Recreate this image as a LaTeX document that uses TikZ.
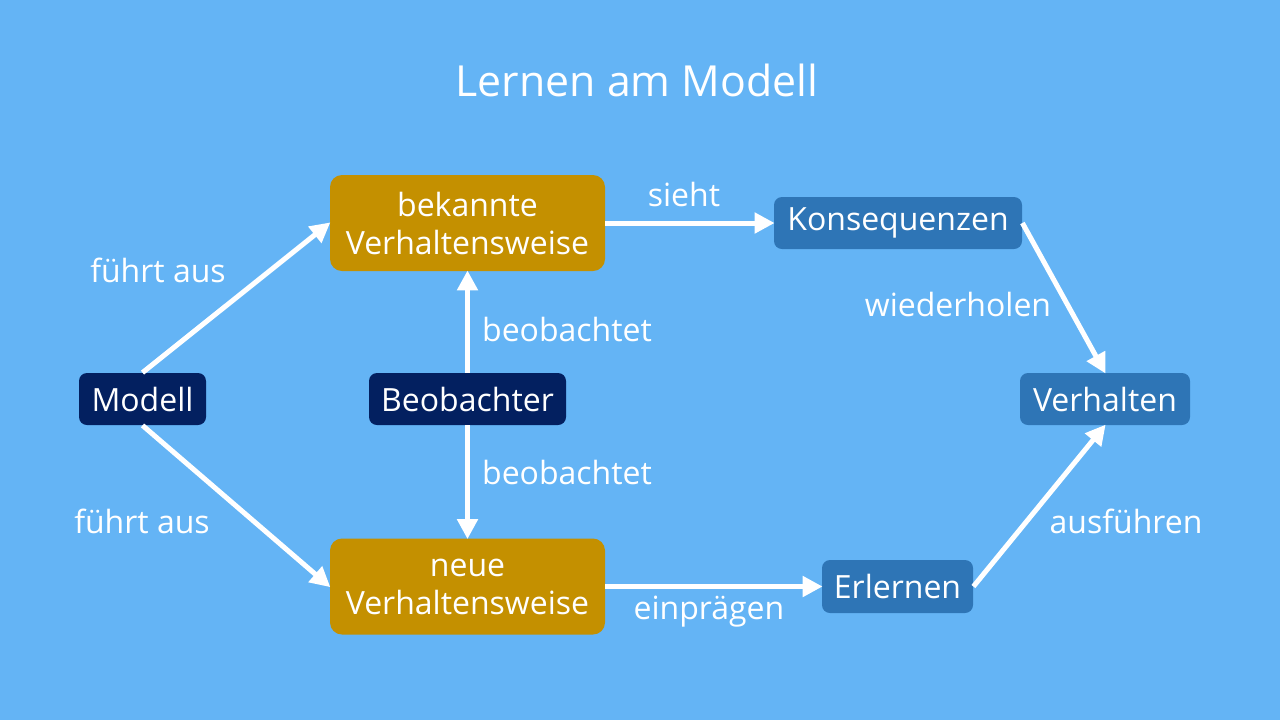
\documentclass[tikz,border=0pt]{standalone}
\usepackage{fontspec}
\setmainfont{Open Sans}
\usetikzlibrary{arrows.meta}
\definecolor{bgblue}{RGB}{100,180,245}
\definecolor{gold}{RGB}{196,144,0}
\definecolor{navy}{RGB}{3,32,96}
\definecolor{midblue}{RGB}{46,117,182}
\begin{document}
\begin{tikzpicture}[x=0.5pt,y=-0.5pt,
  box/.style={inner sep=0pt, text=white, font=\fontsize{16}{19}\selectfont, align=center},
  navybox/.style={box, fill=navy, rounded corners=4pt, minimum height=26pt},
  bluebox/.style={box, fill=midblue, rounded corners=4pt, minimum height=26pt},
  goldbox/.style={box, fill=gold, rounded corners=6pt, minimum width=137.5pt, minimum height=48pt},
  lbl/.style={text=white, font=\fontsize{16}{19}\selectfont, inner sep=0pt},
  conn/.style={draw=white, line width=2.5pt, -{Triangle[length=10pt,width=10pt]}, shorten >=-0.5pt}
]
\fill[bgblue] (0,0) rectangle (1280,720);
\useasboundingbox (0,0) rectangle (1280,720);

\node[text=white, font=\fontsize{21.4}{25}\selectfont] (title) at (637,80) {Lernen am Modell};

\node[navybox, minimum width=63.5pt] (mod) at (142.5,399) {Modell};
\node[navybox, minimum width=98.5pt] (beo) at (467.5,399) {Beobachter};
\node[goldbox] (bek) at (467.5,223) {bekannte\\Verhaltensweise};
\node[goldbox] (neu) at (467.5,586.5) {neue\\Verhaltensweise};
\node[bluebox, minimum width=124pt] (kon) at (898,223) {Konsequenzen};
\node[bluebox, minimum width=85pt] (ver) at (1105,399) {Verhalten};
\node[bluebox, minimum width=75.5pt, minimum height=26.5pt] (erl) at (897.5,586.5) {Erlernen};

\draw[conn] (mod.north) -- (bek.west);
\draw[conn] (mod.south) -- (neu.west);
\draw[conn] (beo.north) -- (bek.south);
\draw[conn] (beo.south) -- (neu.north);
\draw[conn] (bek.east) -- (kon.west);
\draw[conn] (neu.east) -- (erl.west);
\draw[conn] (kon.east) -- (ver.north);
\draw[conn] (erl.east) -- (ver.south);

\node[lbl] (l1) at (158,270) {führt aus};
\node[lbl] (l2) at (142,521) {führt aus};
\node[lbl] (l3) at (567,329) {beobachtet};
\node[lbl] (l4) at (567,472) {beobachtet};
\node[lbl] (l5) at (684,194) {sieht};
\node[lbl] (l6) at (958,304) {wiederholen};
\node[lbl] (l7) at (1126,521) {ausführen};
\node[lbl] (l8) at (709,612) {einprägen};
\end{tikzpicture}
\end{document}
